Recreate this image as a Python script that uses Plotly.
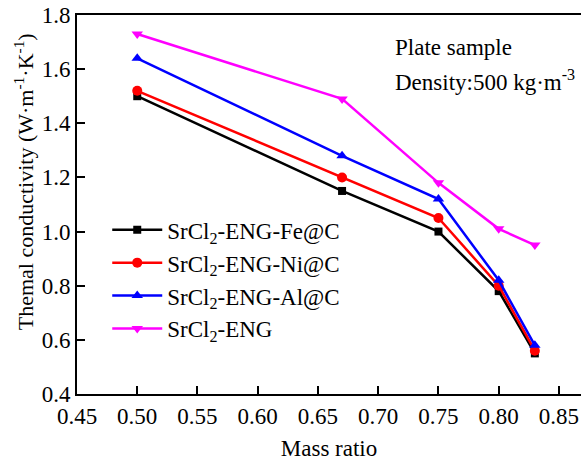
import plotly.graph_objects as go

mass_ratio = [0.50, 0.67, 0.75, 0.80, 0.83]
fe_c = [1.50, 1.15, 1.00, 0.78, 0.55]
ni_c = [1.52, 1.20, 1.05, 0.80, 0.56]
al_c = [1.64, 1.28, 1.12, 0.82, 0.58]
eng = [1.73, 1.49, 1.18, 1.01, 0.95]

series_names = ["SrCl<sub>2</sub>-ENG-Fe@C", "SrCl<sub>2</sub>-ENG-Ni@C",
                "SrCl<sub>2</sub>-ENG-Al@C", "SrCl<sub>2</sub>-ENG"]
series_values = [fe_c, ni_c, al_c, eng]
colors = ["#000000", "#ff0000", "#0000ff", "#ff00ff"]
symbols = ["square", "circle", "triangle-up", "triangle-down"]
sizes = [8, 10, 10, 10]

x_ticks = [0.45, 0.50, 0.55, 0.60, 0.65, 0.70, 0.75, 0.80, 0.85]
y_ticks = [0.4, 0.6, 0.8, 1.0, 1.2, 1.4, 1.6, 1.8]

FONT = "Liberation Serif, Times New Roman, serif"

fig = go.Figure()
for name, vals, c, s, sz in zip(series_names, series_values, colors, symbols, sizes):
    fig.add_trace(go.Scatter(
        x=mass_ratio, y=vals, name=name, mode="lines+markers",
        line=dict(color=c, width=2.5),
        marker=dict(symbol=s, size=sz, color=c),
    ))

fig.update_layout(
    width=581, height=465,
    margin=dict(l=77, r=0, t=15, b=71),
    paper_bgcolor="white", plot_bgcolor="white",
    font=dict(family=FONT, size=23, color="black"),
    showlegend=True,
    legend=dict(x=0.06, y=0.49, xanchor="left", yanchor="top", itemwidth=50,
                bgcolor="rgba(0,0,0,0)", font=dict(size=23), tracegroupgap=0),
    xaxis=dict(
        range=[0.45, 0.8683], tickvals=x_ticks, ticktext=[f"{v:.2f}" for v in x_ticks],
        ticks="inside", ticklen=8, tickwidth=1.5, tickcolor="black",
        showline=True, linecolor="black", linewidth=2, mirror=True,
        showgrid=False, zeroline=False, tickfont=dict(size=23), automargin=False,
        title=dict(text="Mass ratio", font=dict(size=23), standoff=12),
    ),
    yaxis=dict(
        range=[0.4, 1.8], tickvals=y_ticks, ticktext=[f"{v:.1f}" for v in y_ticks],
        ticks="inside", ticklen=8, tickwidth=1.5, tickcolor="black",
        showline=True, linecolor="black", linewidth=2, automargin=False,
        showgrid=False, zeroline=False, tickfont=dict(size=23),
    ),
    annotations=[
        dict(text="Plate sample", xref="paper", yref="paper", x=0.627, y=0.913,
             xanchor="left", yanchor="middle", showarrow=False, font=dict(size=23)),
        dict(text="Density:500 kg·m<sup>-3</sup>", xref="paper", yref="paper", x=0.627, y=0.828,
             xanchor="left", yanchor="middle", showarrow=False, font=dict(size=23)),
        dict(text="Themal conductivity (W·m<sup>-1</sup>·K<sup>-1</sup>)", xref="paper", yref="paper",
             x=-0.105, y=0.559, xanchor="center", yanchor="middle", textangle=-90,
             showarrow=False, font=dict(size=22)),
    ],
)

fig.write_html("out.html", config={"displayModeBar": False},
               post_script="document.body.style.margin='0';document.body.style.overflow='hidden';")
